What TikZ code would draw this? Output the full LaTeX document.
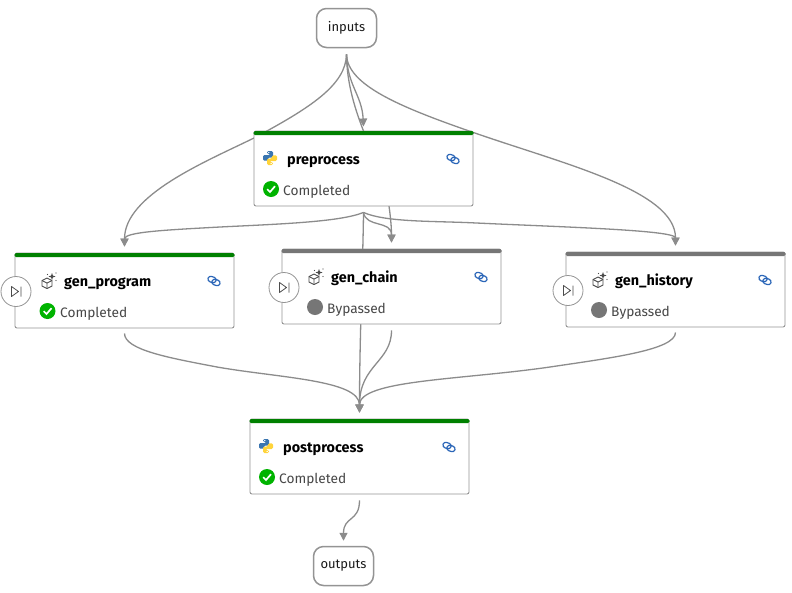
\documentclass[tikz,border=0pt]{standalone}
\usepackage{fontspec}
\setmainfont{Fira Sans}
\usetikzlibrary{arrows.meta,backgrounds}
\definecolor{edgegray}{HTML}{8C8C8C}
\definecolor{okgreen}{HTML}{008000}
\definecolor{checkgreen}{HTML}{00B300}
\definecolor{bypass}{HTML}{767676}
\definecolor{linkblue}{HTML}{2B66B8}
\definecolor{pyblue}{HTML}{3A75B0}
\definecolor{pyyellow}{HTML}{FFD43B}
\tikzset{
  x=1pt,y=-1pt,
  edge/.style={draw=edgegray,line width=1.3pt},
  arrowed/.style={edge,-{Triangle[width=8pt,length=8pt]}},
  cardbox/.style={draw=black!42,fill=white,line width=0.9pt,rounded corners=2pt,minimum width=219pt,minimum height=75pt,inner sep=0pt},
  endbox/.style={draw=black!42,fill=white,line width=1.5pt,rounded corners=10pt,minimum width=60pt,minimum height=39pt,inner sep=0pt,font=\fontsize{13}{14}\selectfont,text=black!90},
  title/.style={anchor=west,inner sep=0pt,text height=10pt,text depth=3pt,font=\fontsize{14.4}{16}\selectfont\bfseries,text=black},
  status/.style={anchor=west,inner sep=0pt,text height=10pt,text depth=3pt,font=\fontsize{13.7}{16}\selectfont,text=black!72},
  stepbutton/.style={circle,draw=black!42,fill=white,line width=0.8pt,minimum size=30pt,inner sep=0pt},
}
% python logo
\newcommand{\pyicon}[2]{%
  \begin{scope}[shift={(#1,#2)}]
    \fill[pyblue,rounded corners=1.3pt] (-3,-7) -- (3,-7) -- (3,-0.5) -- (-2,-0.5) -- (-2,2.6) -- (-7,2.6) -- (-7,-3) -- (0.5,-3) -- (0.5,-4) -- (-3,-4) -- cycle;
    \fill[pyyellow,rounded corners=1.3pt] (3,7) -- (-3,7) -- (-3,0.5) -- (2,0.5) -- (2,-2.6) -- (7,-2.6) -- (7,3) -- (-0.5,3) -- (-0.5,4) -- (3,4) -- cycle;
    \fill[white] (-1.2,-5.4) circle (0.8);
    \fill[white] (1.2,5.4) circle (0.8);
  \end{scope}}
% cube with sparkles
\newcommand{\cubeicon}[2]{%
  \begin{scope}[shift={(#1,#2)},black!70,line width=0.9pt,line join=round]
    \draw (-1.5,-3) -- (3.5,-0.5) -- (3.5,5) -- (-1.5,7.5) -- (-6.5,5) -- (-6.5,-0.5) -- cycle;
    \draw (-6.5,-0.5) -- (-1.5,2) -- (3.5,-0.5) (-1.5,2) -- (-1.5,7.5);
    \fill (3.5,-8) -- (4.4,-5.4) -- (7,-4.5) -- (4.4,-3.6) -- (3.5,-1) -- (2.6,-3.6) -- (0,-4.5) -- (2.6,-5.4) -- cycle;
    \fill (7.5,-0.5) circle (0.7);
    \fill (-1,-6.5) circle (0.7);
    \fill (7.5,-8) circle (0.7);
  \end{scope}}
% link icon
\newcommand{\linkicon}[2]{%
  \begin{scope}[shift={(#1,#2)},linkblue,line width=1.2pt]
    \draw[rounded corners=2.8pt,rotate=-18] (-6.5,-3.6) rectangle (1.8,2);
    \draw[rounded corners=2.8pt,rotate=-18] (-1.8,-2) rectangle (6.5,3.6);
  \end{scope}}
% a card: name, left, top, title, bar colour, icon, icon and status column offset, state
\newcommand{\card}[8]{%
  \node[cardbox] (#1) at (#2+109.5,#3+37.5) {};
  \fill[#5,rounded corners=1.5pt] (#2-0.5,#3) rectangle (#2+219.5,#3+4);
  \node[title] (#1-title) at (#2+#7+33,#3+30.2) {#4};
  #6
  \linkicon{#2+199}{#3+28}
  \node[status] (#1-status) at (#2+#7+29,#3+61) {#8};
}
\newcommand{\okmark}[2]{%
  \fill[checkgreen] (#1,#2) circle (8);
  \draw[white,line width=1.7pt] (#1-3.8,#2+0.2) -- (#1-1,#2+3) -- (#1+4,#2-2.8);}
\newcommand{\bypassmark}[2]{\fill[bypass] (#1,#2) circle (8);}
\newcommand{\stepbtn}[3]{%
  \node[stepbutton] (#1) at (#2,#3) {};
  \draw[black!70,line width=0.8pt,line join=round] (#2-4.5,#3-5) -- (#2+2.5,#3) -- (#2-4.5,#3+5) -- cycle (#2+5,#3-5) -- (#2+5,#3+5);}
\begin{document}
\begin{tikzpicture}
\useasboundingbox (0,0) rectangle (792,592);
\node[endbox] (inputs) at (346.5,28) {inputs};
\node[endbox] (outputs) at (343.5,566) {outputs};
\card{preprocess}{254}{131}{preprocess}{okgreen}{\pyicon{270}{158}}{0}{Completed}
\okmark{271}{189}
\card{genprogram}{15}{253}{gen\_program}{okgreen}{\cubeicon{48.5}{281}}{16}{Completed}
\okmark{47.5}{311}
\card{genchain}{282}{249}{gen\_chain}{bypass}{\cubeicon{315.5}{277}}{16}{Bypassed}
\bypassmark{315}{307}
\card{genhistory}{566}{252}{gen\_history}{bypass}{\cubeicon{599.5}{280}}{16}{Bypassed}
\bypassmark{599}{310}
\card{postprocess}{250}{419}{postprocess}{okgreen}{\pyicon{266}{446}}{0}{Completed}
\okmark{267}{477}
\stepbtn{stepprogram}{16}{291.5}
\stepbtn{stepchain}{284}{287.5}
\stepbtn{stephistory}{568}{290.5}
% connector ends
\coordinate (inputs-out) at ([yshift=-6pt]inputs.south);
\coordinate (preprocess-in) at ([yshift=4pt]preprocess.north);
\coordinate (preprocess-out) at ([yshift=-6pt]preprocess.south);
\coordinate (genprogram-in) at ([yshift=6pt]genprogram.north);
\coordinate (genprogram-out) at ([yshift=-5pt]genprogram.south);
\coordinate (genchain-in) at ([yshift=6pt]genchain.north);
\coordinate (genchain-out) at ([yshift=-6pt]genchain.south);
\coordinate (genhistory-in) at ([yshift=6pt]genhistory.north);
\coordinate (genhistory-out) at ([yshift=-5pt]genhistory.south);
\coordinate (postprocess-in) at ([yshift=6pt]postprocess.north);
\coordinate (postprocess-out) at ([yshift=-6pt]postprocess.south);
\coordinate (outputs-in) at ([yshift=5pt]outputs.north);
\begin{scope}[on background layer]
  \fill[white] (0,0) rectangle (792,592);
  \draw[arrowed] (inputs-out) .. controls (347,85) and (362,95) .. (preprocess-in);
  \draw[arrowed] (inputs-out) .. controls (346,85) and (310,108) .. (254,138) .. controls (205,162) and (124.5,195) .. (genprogram-in);
  \draw[arrowed] (inputs-out) .. controls (347,115) and (382,160) .. (389,206) .. controls (391,220) and (391.5,230) .. (genchain-in);
  \draw[arrowed] (inputs-out) .. controls (347,85) and (400,107) .. (472,132) .. controls (560,163) and (675.5,190) .. (genhistory-in);
  \draw[arrowed] (preprocess-out) .. controls (340,222) and (280,224) .. (220,227) .. controls (165,230) and (124.5,232) .. (genprogram-in);
  \draw[arrowed] (preprocess-out) .. controls (366,228) and (391.5,220) .. (genchain-in);
  \draw[arrowed] (preprocess-out) .. controls (385,222) and (430,221) .. (470,222.7) .. controls (560,227) and (675.5,230) .. (genhistory-in);
  \draw[arrowed] (preprocess-out) .. controls (363,260) and (359.5,340) .. (postprocess-in);
  \draw[arrowed] (genprogram-out) .. controls (124.5,350) and (170,358) .. (217,367) .. controls (280,378) and (359.5,380) .. (postprocess-in);
  \draw[arrowed] (genchain-out) .. controls (391.5,362) and (359.5,365) .. (postprocess-in);
  \draw[arrowed] (genhistory-out) .. controls (675.5,350) and (610,358) .. (550,367) .. controls (460,380) and (359.5,380) .. (postprocess-in);
  \draw[arrowed] (postprocess-out) .. controls (359.5,522) and (343.5,516) .. (outputs-in);
\end{scope}
\end{tikzpicture}
\end{document}
